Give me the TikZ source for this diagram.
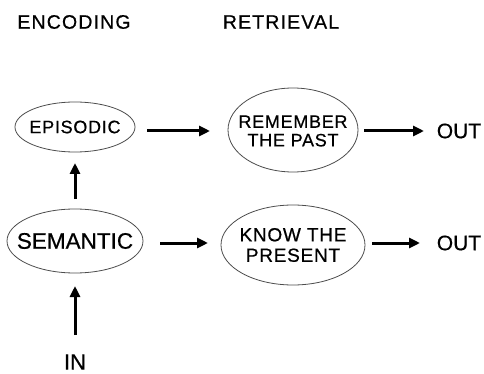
\documentclass[tikz,border=0pt]{standalone}
\usepackage{fontspec}
\setmainfont{Liberation Sans}[FakeBold=0.6]
\usetikzlibrary{arrows.meta}
\begin{document}
\begin{tikzpicture}[x=1pt,y=-1pt,
  lbl/.style={inner sep=0pt, font=\fontsize{#1}{#1}\selectfont},
  oval/.style={draw=black!70, line width=0.8pt},
  arr/.style={line width=3pt, -{Triangle[length=11pt,width=10pt]}}
]
\useasboundingbox (0,0) rectangle (484,374);
\node[lbl=19.5] (enc) at (74,22) {\addfontfeatures{LetterSpace=6}ENCODING};
\node[lbl=19.5] (ret) at (281,22) {\addfontfeatures{LetterSpace=6}RETRIEVAL};
% ellipses
\draw[oval] (75,127) ellipse [x radius=60, y radius=25];
\node[lbl=18] (epi) at (75,127) {\addfontfeatures{LetterSpace=4}EPISODIC};
\coordinate (epiE) at (147,131);
\coordinate (epiS) at (75,163);
\draw[oval] (75,241) ellipse [x radius=68, y radius=32];
\node[lbl=22.5] (sem) at (75,241) {SEMANTIC};
\coordinate (semE) at (160,243);
\coordinate (semN) at (75,199);
\coordinate (semS) at (75,286);
\draw[oval] (293,130) ellipse [x radius=65, y radius=42];
\node[lbl=18] (rem) at (293,131) {\shortstack{\addfontfeatures{LetterSpace=4}REMEMBER\\[3pt]\addfontfeatures{LetterSpace=4}THE PAST}};
\coordinate (remW) at (210,131);
\coordinate (remE) at (364,131);
\draw[oval] (293,245) ellipse [x radius=72, y radius=40];
\node[lbl=19] (know) at (293,245) {\shortstack{\addfontfeatures{LetterSpace=4}KNOW THE\\[4pt]\addfontfeatures{LetterSpace=4}PRESENT}};
\coordinate (knowW) at (208,243);
\coordinate (knowE) at (372,243);
\node[lbl=21] (out1) at (459,131) {OUT};
\node[lbl=21] (out2) at (459,243) {OUT};
\node[lbl=22] (in) at (75,362) {IN};
\coordinate (inN) at (75,335);
\coordinate (out1W) at (424,131);
\coordinate (out2W) at (420,243);
% arrows
\draw[arr] (epiE) -- (remW);
\draw[arr] (semE) -- (knowW);
\draw[arr] (remE) -- (out1W);
\draw[arr] (knowE) -- (out2W);
\draw[arr] (semN) -- (epiS);
\draw[arr] (inN) -- (semS);
\end{tikzpicture}
\end{document}
